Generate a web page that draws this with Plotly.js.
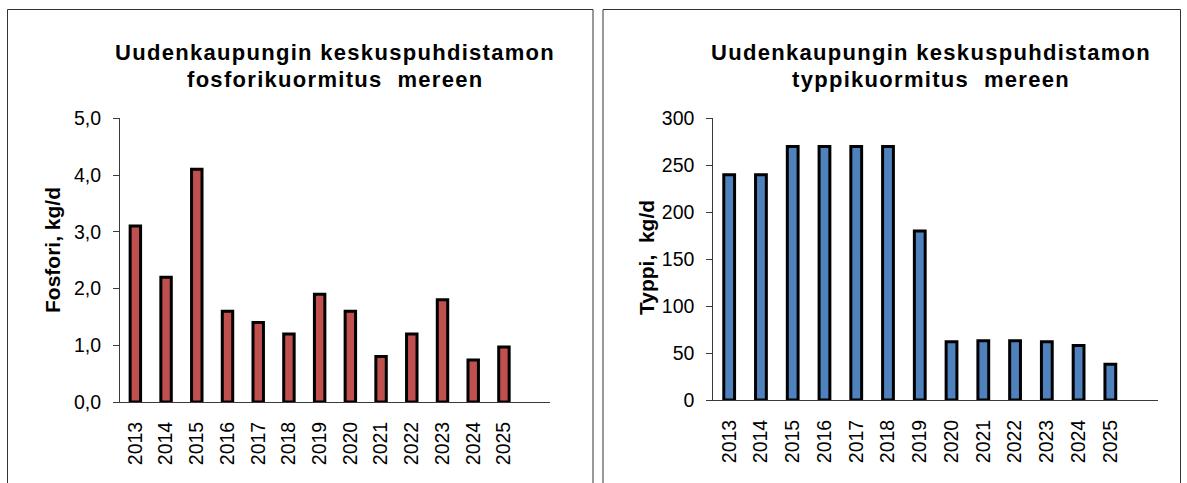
<!DOCTYPE html>
<html>
<head>
<meta charset="utf-8">
<script src="https://cdn.plot.ly/plotly-3.0.1.min.js"></script>
<style>html,body{margin:0;padding:0;background:#fff;}#chart{width:1187px;height:483px;}</style>
</head>
<body>
<div id="chart"></div>
<script>
// ---- data ----
var years = ["2013","2014","2015","2016","2017","2018","2019","2020","2021","2022","2023","2024","2025"];
var phosphorus = [3.1, 2.2, 4.1, 1.6, 1.4, 1.2, 1.9, 1.6, 0.8, 1.2, 1.8, 0.74, 0.97];
var nitrogen = [240, 240, 270, 270, 270, 270, 180, 62, 63, 63, 62, 58, 38];
var leftTitle = ["Uudenkaupungin keskuspuhdistamon", "fosforikuormitus\u00a0 mereen"];
var rightTitle = ["Uudenkaupungin keskuspuhdistamon", "typpikuormitus\u00a0 mereen"];
var leftYTitle = "Fosfori, kg/d";
var rightYTitle = "Typpi,\u00a0 kg/d";
var nSlots = 14;

// ---- layout helpers ----
var W = 1187, H = 483;
function px(x){ return x / W; }
function py(y){ return 1 - y / H; }
var FONT = "Liberation Sans, Arial, sans-serif";
var axColor = "#3a3a3a";

var idx = years.map(function(_, i){ return i; });
var bounds = [];
for (var b = 0; b <= nSlots; b++) bounds.push(b - 0.5);

var traces = [
  {type:"bar", x: idx, y: phosphorus, xaxis:"x", yaxis:"y", width:0.34,
   marker:{color:"#C0504D", line:{color:"#000", width:3}}, hoverinfo:"skip"},
  {type:"bar", x: idx, y: nitrogen, xaxis:"x4", yaxis:"y3", width:0.34,
   marker:{color:"#4F81BD", line:{color:"#000", width:3}}, hoverinfo:"skip"}
];

function mainX(domain, anchor){
  return {domain: domain, anchor: anchor, range:[-0.5, nSlots - 0.5], tickmode:"array",
    tickvals: idx, ticktext: years, tickangle: -90, ticks:"", showgrid:false, zeroline:false,
    showline:true, linecolor: axColor, linewidth:1, ticklabelstandoff: 11,
    tickfont:{family:FONT, size:19.5, color:"#000"}, fixedrange:true};
}
function tickX(over, anchor, dir, len){
  return {overlaying: over, anchor: anchor, range:[-0.5, nSlots - 0.5], tickmode:"array",
    tickvals: bounds, ticks: dir, ticklen: len, tickcolor: axColor, tickwidth:1,
    showticklabels:false, showgrid:false, zeroline:false, showline:false, fixedrange:true};
}
function mainY(domain, anchor, range, dtick, fmt){
  return {domain: domain, anchor: anchor, range: range, dtick: dtick, tick0:0, tickformat: fmt,
    ticks:"outside", ticklen:6, tickcolor: axColor, tickwidth:1, showgrid:false, zeroline:false,
    showline:true, linecolor: axColor, linewidth:1, ticklabelstandoff: 8,
    tickfont:{family:FONT, size:19.5, color:"#000"}, fixedrange:true};
}
function tickY(over, anchor, range, dtick){
  return {overlaying: over, anchor: anchor, range: range, dtick: dtick, tick0:0,
    ticks:"inside", ticklen:6, tickcolor: axColor, tickwidth:1, showticklabels:false,
    showgrid:false, zeroline:false, showline:false, fixedrange:true};
}

var dL = [px(120), px(550)], dR = [px(713.3), px(1158)];
var yL = [py(402), py(118.3)], yR = [py(400), py(118.3)];

var ls = "letter-spacing:1.3px";
function titleAnn(text, x, y){
  return {xref:"paper", yref:"paper", x: px(x), y: py(y), xanchor:"center", yanchor:"middle",
    showarrow:false, text:'<span style="' + ls + '">' + text + '</span>',
    font:{family:FONT, size:22, color:"#000", weight:"bold"}};
}
function yTitleAnn(text, x, y){
  return {xref:"paper", yref:"paper", x: px(x), y: py(y), xanchor:"center", yanchor:"middle",
    showarrow:false, textangle:-90, text: text,
    font:{family:FONT, size:21, color:"#000", weight:"bold"}};
}

var layout = {
  width: W, height: H, margin:{l:0, r:0, t:0, b:0}, paper_bgcolor:"#fff", plot_bgcolor:"rgba(0,0,0,0)",
  showlegend:false, separators:", ", bargap:0,
  xaxis: mainX(dL, "y"),
  xaxis2: tickX("x", "y", "outside", 5),
  xaxis3: tickX("x", "y", "inside", 7),
  yaxis: mainY(yL, "x", [0, 5], 1, ".1f"),
  yaxis2: tickY("y", "x", [0, 5], 1),
  xaxis4: mainX(dR, "y3"),
  xaxis5: tickX("x4", "y3", "outside", 5),
  xaxis6: tickX("x4", "y3", "inside", 7),
  yaxis3: mainY(yR, "x4", [0, 300], 50, "d"),
  yaxis4: tickY("y3", "x4", [0, 300], 50),
  annotations: [
    titleAnn(leftTitle[0], 334.5, 52), titleAnn(leftTitle[1], 334.5, 80),
    titleAnn(rightTitle[0], 930.5, 52), titleAnn(rightTitle[1], 930.5, 80),
    yTitleAnn(leftYTitle, 52, 250), yTitleAnn(rightYTitle, 646, 258)
  ],
  shapes: [
    {type:"rect", xref:"paper", yref:"paper", x0: px(7.5), x1: px(593), y0: py(490), y1: py(9.5),
     line:{color:"#333", width:1}, fillcolor:"rgba(0,0,0,0)", layer:"below"},
    {type:"rect", xref:"paper", yref:"paper", x0: px(603), x1: px(1180.5), y0: py(490), y1: py(9.5),
     line:{color:"#333", width:1}, fillcolor:"rgba(0,0,0,0)", layer:"below"}
  ]
};

Plotly.newPlot("chart", traces, layout, {displayModeBar:false, staticPlot:true});
</script>
</body>
</html>
